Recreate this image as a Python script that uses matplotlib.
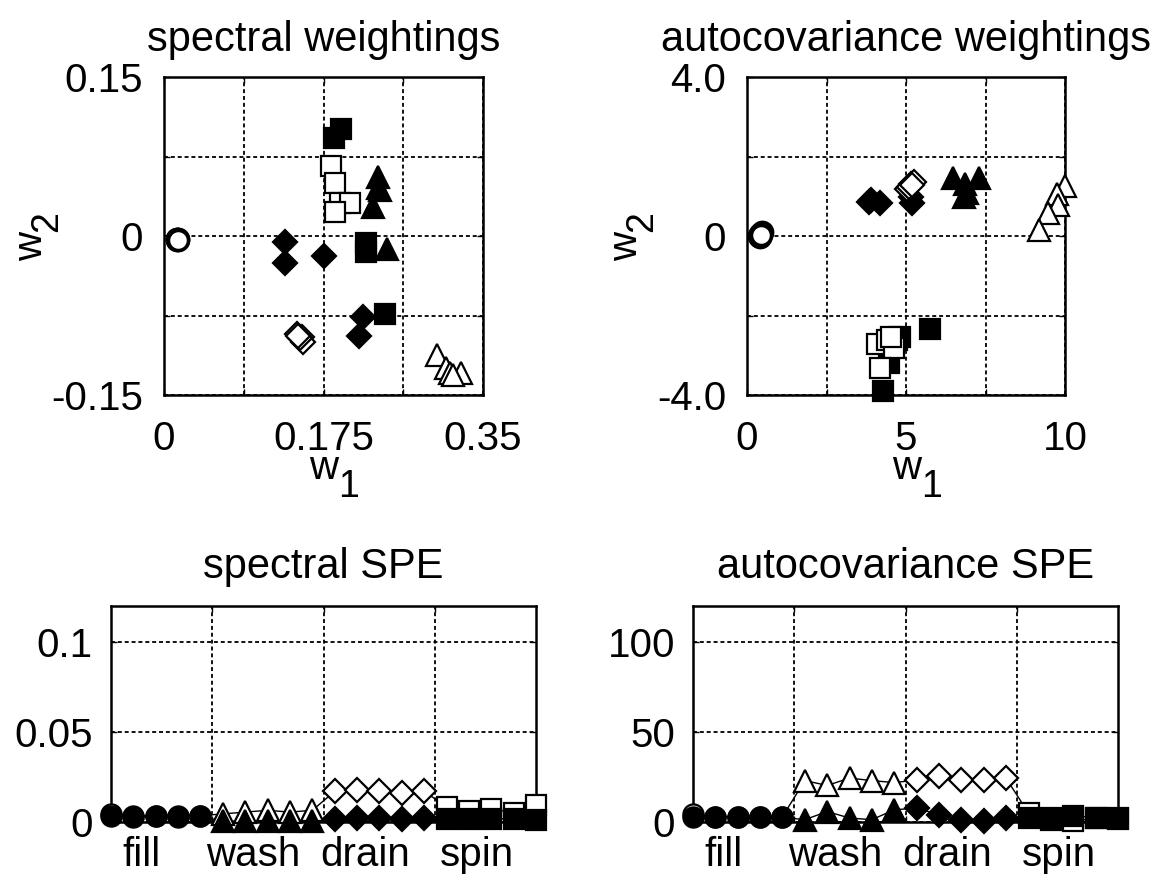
import matplotlib
matplotlib.use('Agg')
import numpy as np
import matplotlib.pyplot as plt

plt.rcParams['font.family'] = ['Liberation Sans', 'DejaVu Sans']

FS = 29
FS_TITLE = 30

# ---- spectral weightings (w1, w2) ----
sp_circ_open_w1 = [0.0146, 0.0150, 0.0143, 0.0148, 0.0152]
sp_circ_open_w2 = [-0.0033, -0.0028, -0.0038, -0.0030, -0.0035]
sp_tri_open_w1 = [0.2995, 0.3090, 0.3134, 0.3262, 0.3170]
sp_tri_open_w2 = [-0.1123, -0.1248, -0.1295, -0.1295, -0.1310]
sp_tri_fill_w1 = [0.2349, 0.2349, 0.2294, 0.2367, 0.2447]
sp_tri_fill_w2 = [0.0555, 0.0457, 0.0275, 0.0432, -0.0127]
sp_dia_open_w1 = [0.1454, 0.1509, 0.1527, 0.1490, 0.1470]
sp_dia_open_w2 = [-0.0928, -0.0950, -0.0997, -0.0960, -0.0940]
sp_dia_fill_w1 = [0.1326, 0.1326, 0.1753, 0.2184, 0.2141]
sp_dia_fill_w2 = [-0.0055, -0.0259, -0.0187, -0.0768, -0.0940]
sp_sq_open_w1 = [0.1837, 0.1881, 0.1936, 0.2046, 0.1881]
sp_sq_open_w2 = [0.0658, 0.0504, 0.0316, 0.0316, 0.0228]
sp_sq_fill_w1 = [0.1863, 0.1940, 0.2221, 0.2221, 0.2422]
sp_sq_fill_w2 = [0.0928, 0.1007, -0.0064, -0.0149, -0.0740]

# ---- autocovariance weightings (w1, w2) ----
ac_circ_open_w1 = [0.42, 0.37, 0.47, 0.40, 0.44]
ac_circ_open_w2 = [0.05, 0.00, 0.09, -0.02, 0.02]
ac_tri_open_w1 = [10.00, 9.76, 9.79, 9.48, 9.19]
ac_tri_open_w2 = [1.27, 1.05, 0.77, 0.58, 0.16]
ac_tri_fill_w1 = [6.49, 6.86, 7.31, 6.91, 6.83]
ac_tri_fill_w2 = [1.45, 1.32, 1.45, 1.07, 0.99]
ac_dia_open_w1 = [5.03, 5.15, 5.24, 5.08, 5.18]
ac_dia_open_w2 = [1.19, 1.30, 1.36, 1.24, 1.28]
ac_dia_fill_w1 = [3.85, 4.17, 5.18, 5.15, 3.90]
ac_dia_fill_w2 = [0.86, 0.83, 0.83, 0.98, 0.90]
ac_sq_open_w1 = [4.08, 4.40, 4.61, 4.17, 4.52]
ac_sq_open_w2 = [-2.72, -2.62, -2.83, -3.31, -2.53]
ac_sq_fill_w1 = [5.76, 4.82, 4.29, 4.71, 4.45]
ac_sq_fill_w2 = [-2.33, -2.53, -3.89, -2.62, -3.20]

# ---- SPE per sample, 5 samples per phase ----
phases = ['fill', 'wash', 'drain', 'spin']
spe_sp_open = [0.0045, 0.0035, 0.0035, 0.0035, 0.0035,
               0.0045, 0.0055, 0.0065, 0.0055, 0.0065,
               0.0170, 0.0180, 0.0170, 0.0160, 0.0170,
               0.0085, 0.0060, 0.0075, 0.0050, 0.0095]
spe_sp_fill = [0.0032, 0.0030, 0.0031, 0.0030, 0.0031,
               0.0004, 0.0006, 0.0005, 0.0006, 0.0008,
               0.0015, 0.0020, 0.0020, 0.0015, 0.0020,
               0.0015, 0.0015, 0.0016, 0.0019, 0.0012]
spe_ac_open = [4.5, 3.0, 3.0, 3.0, 3.0,
               23.0, 20.3, 24.4, 23.0, 21.9,
               23.3, 25.5, 23.3, 23.3, 24.2,
               5.0, 1.0, 0.5, 2.0, 2.5]
spe_ac_fill = [2.7, 2.7, 2.6, 2.7, 2.6,
               1.3, 5.8, 2.2, 1.3, 6.8,
               7.7, 4.0, 1.3, 0.4, 2.2,
               2.4, 2.4, 3.5, 2.4, 1.5]

W, H = 1154, 883
fig = plt.figure(figsize=(W / 100, H / 100), dpi=100)


def px_axes(x0, y0, x1, y1):
    return fig.add_axes([x0 / W, 1 - y1 / H, (x1 - x0) / W, (y1 - y0) / H])


def px_text(x, y, s, **kw):
    # text placed in figure pixels measured from the top-left corner
    fig.text(x / W, 1 - y / H, s, **kw)


def style(ax, pad_x, pad_y):
    for s in ax.spines.values():
        s.set_linewidth(1.8)
    ax.tick_params(which='both', direction='in', length=4, width=1,
                   labelsize=FS, top=True, right=True)
    ax.tick_params(axis='x', pad=pad_x)
    ax.tick_params(axis='y', pad=pad_y)
    ax.set_axisbelow(True)


grid_kw = dict(color='k', linestyle=(0, (2.2, 1.6)), linewidth=1.3)
mk = {
    'o': dict(marker='o', ms=14.5),
    '^': dict(marker='^', ms=16.5),
    'D': dict(marker='D', ms=12),
    's': dict(marker='s', ms=14.5),
}


def pts(ax, x, y, m, filled, z=3, mew=1.6):
    ax.plot(x, y, ls='none', mfc='k' if filled else 'w', mec='k', mew=mew,
            clip_on=False, zorder=z, **mk[m])


def w_xlabel(xc, sub):
    # MATLAB-style "w_1": w then a lowered digit
    px_text(xc, 479, 'w', fontsize=FS, ha='right', va='baseline')
    px_text(xc, 497, sub, fontsize=FS - 2, ha='left', va='baseline')


def w_ylabel(xb, yc, sub):
    px_text(xb, yc, 'w', fontsize=FS, ha='right', va='baseline',
            rotation=90, rotation_mode='anchor')
    px_text(xb + 15, yc, sub, fontsize=FS - 2, ha='left', va='baseline',
            rotation=90, rotation_mode='anchor')


# ---------------- top-left: spectral weightings ----------------
ax1 = px_axes(164, 77, 483, 395)
style(ax1, 18, 15)
ax1.set_xlim(0, 0.35)
ax1.set_ylim(-0.15, 0.15)
ax1.set_xticks([0, 0.0875, 0.175, 0.2625, 0.35])
ax1.set_xticklabels(['0', '', '0.175', '', '0.35'])
ax1.set_yticks([-0.15, -0.075, 0, 0.075, 0.15])
ax1.set_yticklabels(['-0.15', '', '0', '', '0.15'])
ax1.grid(True, **grid_kw)
pts(ax1, sp_circ_open_w1, sp_circ_open_w2, 'o', False, mew=2.6)
pts(ax1, sp_dia_fill_w1, sp_dia_fill_w2, 'D', True)
pts(ax1, sp_dia_open_w1, sp_dia_open_w2, 'D', False)
pts(ax1, sp_tri_fill_w1, sp_tri_fill_w2, '^', True)
pts(ax1, sp_tri_open_w1, sp_tri_open_w2, '^', False)
pts(ax1, sp_sq_fill_w1, sp_sq_fill_w2, 's', True)
pts(ax1, sp_sq_open_w1, sp_sq_open_w2, 's', False)
ax1.set_title('spectral weightings', fontsize=FS_TITLE, pad=19)
w_xlabel(338, '1')
w_ylabel(42, 232, '2')

# ---------------- top-right: autocovariance weightings ----------------
ax2 = px_axes(747, 77, 1065, 395)
style(ax2, 18, 15)
ax2.set_xlim(0, 10)
ax2.set_ylim(-4, 4)
ax2.set_xticks([0, 2.5, 5, 7.5, 10])
ax2.set_xticklabels(['0', '', '5', '', '10'])
ax2.set_yticks([-4, -2, 0, 2, 4])
ax2.set_yticklabels(['-4.0', '', '0', '', '4.0'])
ax2.grid(True, **grid_kw)
pts(ax2, ac_circ_open_w1, ac_circ_open_w2, 'o', False, mew=2.6)
pts(ax2, ac_dia_fill_w1, ac_dia_fill_w2, 'D', True)
pts(ax2, ac_dia_open_w1, ac_dia_open_w2, 'D', False)
pts(ax2, ac_tri_fill_w1, ac_tri_fill_w2, '^', True)
pts(ax2, ac_tri_open_w1, ac_tri_open_w2, '^', False)
pts(ax2, ac_sq_fill_w1, ac_sq_fill_w2, 's', True)
pts(ax2, ac_sq_open_w1, ac_sq_open_w2, 's', False)
ax2.set_title('autocovariance weightings', fontsize=FS_TITLE, pad=19)
w_xlabel(921, '1')
w_ylabel(637, 232, '2')


# ---------------- bottom: SPE ----------------
def spe_plot(ax, open_vals, fill_vals, ymax, yticks, ylabels, title):
    style(ax, 10, 13)
    n = len(open_vals)
    idx = np.arange(1, n + 1)
    per = n // len(phases)
    ax.set_xlim(1, n)
    ax.set_ylim(0, ymax)
    ax.set_yticks(yticks)
    ax.set_yticklabels(ylabels)
    centers = [1.35 + per * k + 1 for k in range(len(phases))]
    ax.set_xticks(centers)
    ax.set_xticklabels(phases)
    ax.tick_params(axis='x', which='major', length=0)
    ax.set_xticks([per * k + 0.5 for k in range(1, len(phases))], minor=True)
    ax.grid(True, axis='x', which='minor', **grid_kw)
    ax.grid(True, axis='y', which='major', **grid_kw)
    ax.plot(idx, open_vals, color='k', lw=1, zorder=2, clip_on=False)
    ax.plot(idx, fill_vals, color='k', lw=1, zorder=2, clip_on=False)
    shapes = ['o', '^', 'D', 's']
    for k, m in enumerate(shapes):
        sl = slice(per * k, per * (k + 1))
        pts(ax, idx[sl], open_vals[sl], m, False, z=3)
    for k, m in enumerate(shapes):
        sl = slice(per * k, per * (k + 1))
        pts(ax, idx[sl], fill_vals[sl], m, True, z=4)
    ax.set_title(title, fontsize=FS_TITLE, pad=20)


ax3 = px_axes(111, 606, 536, 822)
spe_plot(ax3, spe_sp_open, spe_sp_fill, 0.12, [0, 0.05, 0.1],
         ['0', '0.05', '0.1'], 'spectral SPE')

ax4 = px_axes(693, 606, 1118, 822)
spe_plot(ax4, spe_ac_open, spe_ac_fill, 120, [0, 50, 100],
         ['0', '50', '100'], 'autocovariance SPE')

fig.savefig('out.png', dpi=100)
